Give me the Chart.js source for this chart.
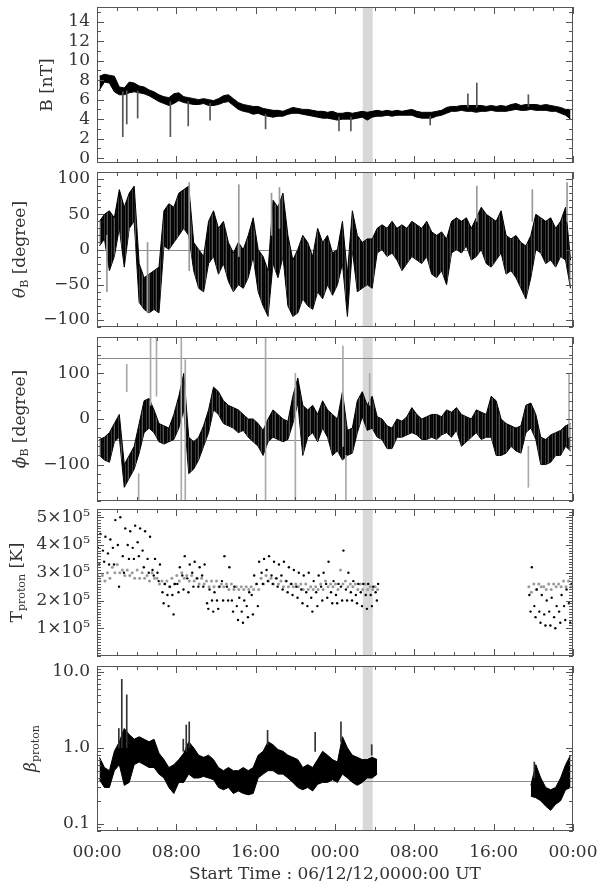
<!DOCTYPE html>
<html>
<head>
<meta charset="utf-8">
<script src="https://cdn.jsdelivr.net/npm/chart.js@4.4.1/dist/chart.umd.min.js"></script>
<style>
  body { margin: 0; background: #fff; width: 600px; height: 892px; position: relative; overflow: hidden; }
  canvas { position: absolute; left: 0; }
</style>
</head>
<body>
<canvas id="pB"></canvas>
<canvas id="pTheta"></canvas>
<canvas id="pPhi"></canvas>
<canvas id="pTemp"></canvas>
<canvas id="pBeta"></canvas>
<script>
// time bins (hours since 06/12/12 00:00 UT), 30 min each
const hours = [0,0.5,1,1.5,2,2.5,3,3.5,4,4.5,5,5.5,6,6.5,7,7.5,8,8.5,9,9.5,10,10.5,11,11.5,
  12,12.5,13,13.5,14,14.5,15,15.5,16,16.5,17,17.5,18,18.5,19,19.5,20,20.5,21,21.5,22,22.5,23,23.5,
  24,24.5,25,25.5,26,26.5,27,27.5,28,28.5,29,29.5,30,30.5,31,31.5,32,32.5,33,33.5,34,34.5,35,35.5,
  36,36.5,37,37.5,38,38.5,39,39.5,40,40.5,41,41.5,42,42.5,43,43.5,44,44.5,45,45.5,46,46.5,47,47.5];
const xTickHours = [0, 8, 16, 24, 32, 40, 48];
const xTickLabels = ['00:00', '08:00', '16:00', '00:00', '08:00', '16:00', '00:00'];
const xTitle = 'Start Time : 06/12/12,0000:00 UT';
const bandStart = 26.8, bandEnd = 27.8;

// |B| [nT] - upper / lower edge of the trace per bin
const bHi = [8.4,8.6,8.5,8.4,7.3,7.2,7.8,7.7,7.4,7.3, 7.0,6.8,6.5,6.3,6.2,6.6,6.7,6.3,6.2,6.1,
  6.0,6.1,6.0,5.9,6.1,6.4,6.5,6.1,5.7,5.5, 5.4,5.3,5.3,5.1,5.0,4.9,4.9,4.8,5.0,5.2,
  5.1,5.0,5.0,4.9,4.8,4.8,4.7,4.8,4.6,4.6, 4.7,4.6,4.7,4.8,4.7,4.8,4.9,4.8,4.9,4.8,
  4.9,4.8,4.9,5.0,4.8,4.7,4.7,4.7,4.8,4.9, 5.2,5.3,5.3,5.4,5.4,5.4,5.4,5.4,5.3,5.4,
  5.3,5.4,5.3,5.5,5.6,5.4,5.5,5.5,5.5,5.4, 5.5,5.4,5.3,5.2,5.0,5.0];
const bLo = [7.0,7.8,7.7,6.8,6.5,6.5,6.7,6.8,6.7,6.6, 6.4,6.1,5.8,5.6,5.4,5.6,5.9,5.7,5.6,5.5,
  5.5,5.6,5.4,5.4,5.5,5.7,5.8,5.4,5.0,4.8, 4.7,4.5,4.6,4.4,4.3,4.2,4.3,4.3,4.5,4.6,
  4.6,4.5,4.4,4.3,4.2,4.1,4.1,4.0,3.9,4.0, 4.0,4.0,4.1,4.2,3.9,4.2,4.3,4.3,4.4,4.3,
  4.4,4.4,4.4,4.4,4.2,4.1,4.1,4.1,4.3,4.4, 4.6,4.8,4.8,4.9,4.8,4.8,4.7,4.8,4.8,4.9,
  4.8,4.8,4.8,4.9,5.0,4.9,4.9,5.0,4.9,4.9, 4.9,4.8,4.8,4.6,4.4,4.0];
const bSpikeT  = [2.6, 3.0, 4.1, 7.4, 9.2, 11.4, 17.0, 24.4, 25.6, 33.6, 37.4, 38.3, 43.5];
const bSpikeLo = [2.2, 3.5, 4.1, 2.2, 3.3, 3.9, 3.0, 2.8, 2.8, 3.4, 5.2, 5.2, 5.3];
const bSpikeHi = [6.8, 6.9, 6.9, 5.8, 5.8, 5.6, 4.5, 4.2, 4.2, 4.3, 6.6, 7.7, 6.5];

// theta_B [degree]
const thetaHi = [40,50,55,45,85,60,80,90,-20,-40, -35,-30,-25,55,65,60,80,85,90,10,
  0,-10,40,55,30,40,10,-5,10,0, 20,45,0,-10,-30,70,60,80,20,-15,
  0,20,10,-10,30,10,20,-5,0,40, -35,55,20,10,15,15,30,35,30,40,
  30,35,30,40,35,30,40,25,20,25, 15,40,45,40,45,30,45,60,50,45,
  40,55,20,15,20,10,5,20,50,45, 40,45,30,40,60,-15];
const thetaLo = [5,15,-30,-10,30,-25,30,40,-75,-85, -90,-85,-90,5,0,10,20,30,20,-30,
  -55,-60,-20,-10,-35,-20,-45,-60,-50,-55, -40,-10,-60,-80,-95,-20,-40,-10,-80,-95,
  -90,-70,-80,-85,-60,-70,-50,-65,-50,-20, -95,0,-60,-55,-50,-55,-5,0,-10,-5,
  -15,-30,-20,-10,-15,-20,-10,-35,-40,-30, -50,-5,0,-5,5,-15,-10,0,-20,-25,
  -15,-5,-35,-30,-40,-55,-70,-40,0,-5, -20,-15,-25,-10,-15,-55];
const thetaSpikeT  = [1.0, 5.1, 9.3, 14.3, 17.6, 18.4, 38.3, 43.9, 47.4];
const thetaSpikeLo = [-60, -90, -30, -10, 20, 30, 40, 40, 40];
const thetaSpikeHi = [20, 10, 95, 92, 80, 88, 90, 85, 95];

// phi_B [degree]
const phiHi = [-45,-40,-30,-10,10,-100,-80,-60,-10,40, 45,20,-10,-15,-20,10,50,100,-40,-50,
  -40,-15,20,70,60,40,30,25,20,10, 0,0,-10,-25,0,20,10,0,-5,50,
  90,30,20,30,10,40,20,10,0,60, -25,-20,40,60,30,50,5,0,-15,-20,
  0,-5,5,25,10,0,5,10,10,5, 20,15,25,10,5,0,20,15,10,50,
  40,0,-10,-15,-20,-15,30,35,10,-40, -45,-35,-30,-25,-15,-10];
const phiLo = [-80,-90,-95,-50,-40,-150,-130,-110,-75,-30, -20,-30,-50,-55,-50,-45,-20,20,-120,-110,
  -90,-60,-30,20,10,-10,-15,-20,-30,-25, -40,-50,-60,-80,-50,-40,-45,-50,-45,-10,
  35,-80,-40,-30,-50,-20,-40,-80,-70,-90, -80,-75,-30,5,-25,-20,-40,-45,-65,-65,
  -40,-40,-35,-30,-35,-45,-45,-40,-45,-35, -30,-40,-25,-60,-50,-40,-30,-45,-40,-40,
  -80,-80,-75,-60,-70,-75,-30,-20,-45,-100, -100,-95,-80,-80,-60,-70];
const phiSpikeT  = [3.0, 4.2, 5.4, 6.0, 8.5, 8.9, 17.0, 20.0, 24.8, 25.1, 27.5, 43.5, 47.6];
const phiSpikeLo = [60, -180, 30, 50, -180, -180, -180, -180, -60, -180, 30, -150, -40];
const phiSpikeHi = [120, -120, 180, 180, 180, 130, 180, 100, 160, -80, 100, -60, 100];

// T_proton [10^5 K]: black = three samples per bin, grey = second estimate
const noData = Array(30).fill(null);
const tempHi = [4.4,4.3,4.2,4.9,5.0,4.6,4.5,4.7,4.6,4.5, 4.3,3.5,3.3,2.6,2.5,2.6,3.2,3.6,3.3,3.4,
  3.2,3.3,2.4,2.3,2.5,3.6,3.2,2.5,2.1,2.0, 2.3,2.9,3.4,3.5,3.6,3.4,3.3,3.4,3.2,3.1,
  3.0,2.9,3.0,2.7,2.9,3.0,3.4,2.7,2.6,3.8, 3.0,2.7,2.6,2.6,2.6,2.5,2.6,
  ...noData, 3.2,2.4,2.2,2.0,2.1,1.8,2.2,2.4,2.6];
const tempMid = [3.9,3.8,3.7,3.9,4.0,3.6,4.0,3.9,4.1,3.8, 3.5,3.1,3.0,2.3,2.2,2.2,2.6,2.9,2.8,3.0,
  2.8,2.9,1.9,2.0,2.0,2.7,2.5,2.0,1.8,1.6, 1.8,2.2,2.6,3.0,3.1,2.9,2.8,2.9,2.7,2.6,
  2.5,2.4,2.3,2.1,2.3,2.5,2.6,2.3,2.2,2.5, 2.4,2.3,2.2,2.3,2.2,2.2,2.3,
  ...noData, 2.2,1.8,1.6,1.5,1.6,1.4,1.6,1.8,1.9];
const tempLo = [3.3,3.4,3.3,3.3,2.5,3.0,3.5,3.5,3.6,3.2, 3.0,2.9,2.7,1.9,1.8,1.5,2.3,2.4,2.3,2.5,
  2.5,2.5,1.7,1.6,1.7,2.0,2.0,1.6,1.3,1.2, 1.4,1.5,1.8,2.6,2.7,2.6,2.5,2.4,2.3,2.2,
  2.1,1.9,1.8,1.6,1.8,2.0,2.1,1.9,1.9,2.0, 2.0,2.0,1.9,1.8,1.7,1.8,2.0,
  ...noData, 1.6,1.4,1.2,1.1,1.1,1.0,1.2,1.3,1.2];
const tempGrayHi = [2.9,2.9,3.0,3.2,3.3,3.1,3.1,3.0,3.1,3.0, 2.9,3.0,2.8,2.7,2.7,2.8,2.9,3.0,2.9,2.9,
  2.8,2.8,2.7,2.7,2.7,2.6,2.6,2.6,2.5,2.5, 2.5,2.5,2.6,2.8,2.9,2.8,2.8,2.7,2.7,2.6,
  2.6,2.6,2.6,2.5,2.5,2.6,2.7,2.6,2.6,3.1, 2.7,2.6,2.6,2.6,2.6,2.5,2.5,
  ...noData, 2.5,2.6,2.6,2.5,2.6,2.6,2.6,2.7,2.7];
const tempGrayLo = [2.7,2.7,2.8,3.0,3.0,2.9,2.9,2.8,2.8,2.8, 2.7,2.8,2.6,2.6,2.5,2.6,2.7,2.8,2.7,2.7,
  2.6,2.6,2.5,2.5,2.5,2.5,2.4,2.4,2.4,2.4, 2.4,2.4,2.4,2.6,2.7,2.6,2.6,2.5,2.5,2.5,
  2.5,2.4,2.4,2.4,2.4,2.4,2.5,2.5,2.4,2.6, 2.5,2.5,2.4,2.4,2.4,2.4,2.4,
  ...noData, 2.3,2.4,2.5,2.4,2.4,2.5,2.5,2.5,2.5];

// beta_proton
const betaHi = [.75,.55,.5,.9,1.2,1.8,1.5,1.3,1.4,1.3, 1.2,1.3,.85,.7,.55,.6,.7,.85,1.2,1.0,
  .8,.75,.8,.7,.55,.5,.55,.5,.5,.55, .5,.55,.8,.9,1.2,1.1,.95,.9,.8,.75,
  .7,.55,.6,.55,.7,.9,.8,.7,.65,1.4, 1.0,.8,.75,.7,.7,.75,.7,
  ...noData, .32,.6,.4,.3,.28,.3,.4,.6,.8];
const betaLo = [.38,.3,.3,.5,.6,.32,.35,.6,.65,.6, .55,.55,.45,.4,.3,.25,.35,.35,.45,.4,
  .4,.42,.4,.38,.3,.28,.3,.25,.27,.25, .24,.25,.4,.45,.5,.5,.45,.45,.4,.35,
  .3,.28,.3,.27,.33,.35,.35,.38,.35,.45, .4,.35,.32,.35,.4,.4,.45,
  ...noData, .23,.22,.2,.17,.15,.18,.2,.28,.3];
const betaSpikeT  = [2.2, 2.5, 3.0, 8.7, 9.0, 9.3, 17.2, 22.0, 24.6, 27.7, 44.1];
const betaSpikeLo = [1.0, 1.0, 1.0, 0.9, 0.9, 1.0, 1.1, 0.9, 1.2, 0.8, 0.4];
const betaSpikeHi = [1.8, 8.0, 5.0, 1.3, 2.0, 2.2, 1.7, 1.6, 2.2, 1.1, 0.65];

const FONT = 'DejaVu Serif';
const TEXT = '#333';
const LINE = '#555';
const PAD = 20;

// uneven vertical hatch so the wide angle bands read as dense scattered samples
function hatch() {
  const shades = ['#000', '#1c1c1c', '#555', '#000', '#0c0c0c', '#000', '#3a3a3a'];
  const c = document.createElement('canvas');
  c.width = shades.length; c.height = 1;
  const g = c.getContext('2d');
  shades.forEach((s, i) => { g.fillStyle = s; g.fillRect(i, 0, 1, 1); });
  return g.createPattern(c, 'repeat');
}
const HATCH = hatch();

function pts(values, shift) {
  return values.map((v, i) => ({ x: hours[i] + shift, y: v }));
}
function band(hi, lo, fillStyle) {
  return [
    { type: 'line', data: pts(hi, 0.25), borderColor: '#000', backgroundColor: fillStyle || '#000',
      borderWidth: 1, pointRadius: 0, fill: '+1', spanGaps: false },
    { type: 'line', data: pts(lo, 0.25), borderColor: '#000', borderWidth: 1, pointRadius: 0,
      fill: false, spanGaps: false }
  ];
}
function spikes(t, lo, hi, color) {
  return { type: 'bar', data: t.map((v, i) => ({ x: v, y: [lo[i], hi[i]] })),
    backgroundColor: color, barThickness: 1, grouped: false };
}
function dots(values, shift, color, r) {
  return { type: 'line', data: pts(values, shift), showLine: false, pointRadius: r,
    pointBackgroundColor: color, pointBorderWidth: 0, spanGaps: false };
}
function steps(a, b, s) {
  const out = [];
  for (let v = a; v <= b + 1e-9; v += s) out.push(+v.toFixed(4));
  return out;
}
const signed = v => (v < 0 ? '\u2212' + (-v) : String(v));

const idlFrame = {
  id: 'idlFrame',
  beforeDatasetsDraw(chart, args, o) {
    const { ctx, chartArea: a } = chart;
    const x = chart.scales.x, y = chart.scales.y;
    ctx.save();
    const b0 = x.getPixelForValue(bandStart), b1 = x.getPixelForValue(bandEnd);
    ctx.fillStyle = '#d8d8d8';
    ctx.fillRect(b0, a.top, b1 - b0, a.bottom - a.top);
    ctx.strokeStyle = '#8a8a8a';
    ctx.lineWidth = 1;
    (o.refs || []).forEach(v => {
      const py = Math.round(y.getPixelForValue(v)) + 0.5;
      ctx.beginPath(); ctx.moveTo(a.left, py); ctx.lineTo(a.right, py); ctx.stroke();
    });
    ctx.restore();
  },
  afterDraw(chart, args, o) {
    const { ctx, chartArea: a } = chart;
    const x = chart.scales.x, y = chart.scales.y;
    ctx.save();
    ctx.strokeStyle = LINE;
    ctx.lineWidth = 1;
    ctx.strokeRect(a.left + 0.5, a.top + 0.5, a.right - a.left - 1, a.bottom - a.top - 1);
    ctx.beginPath();
    const vt = (v, len) => {
      const px = Math.round(x.getPixelForValue(v)) + 0.5;
      ctx.moveTo(px, a.top); ctx.lineTo(px, a.top + len);
      ctx.moveTo(px, a.bottom); ctx.lineTo(px, a.bottom - len);
    };
    const ht = (v, len) => {
      const py = Math.round(y.getPixelForValue(v)) + 0.5;
      ctx.moveTo(a.left, py); ctx.lineTo(a.left + len, py);
      ctx.moveTo(a.right, py); ctx.lineTo(a.right - len, py);
    };
    steps(0, 48, 2).forEach(h => vt(h, h % 8 ? 4 : 7));
    o.minor.forEach(v => ht(v, 4));
    o.major.forEach(v => ht(v, 7));
    ctx.stroke();

    // rotated y title with subscripts
    ctx.translate(o.titleX, (a.top + a.bottom) / 2);
    ctx.rotate(-Math.PI / 2);
    ctx.fillStyle = TEXT;
    ctx.textBaseline = 'alphabetic';
    const fontOf = p => (p.it ? 'italic ' : '') + (p.sub ? 11 : 17) + 'px "' + FONT + '"';
    let w = 0;
    o.title.forEach(p => { ctx.font = fontOf(p); p.w = ctx.measureText(p.t).width; w += p.w; });
    let tx = -w / 2;
    o.title.forEach(p => {
      ctx.font = fontOf(p);
      ctx.fillText(p.t, tx, p.sub ? 9 : 6);
      tx += p.w;
    });
    ctx.restore();
  }
};

const panels = [
  { id: 'pB', top: 7, bottom: 163, min: -0.5, max: 15.5,
    labels: [0, 2, 4, 6, 8, 10, 12, 14], fmt: String, minor: steps(0, 15, 1),
    title: [{ t: 'B [nT]' }], titleX: 46,
    datasets: [spikes(bSpikeT, bSpikeLo, bSpikeHi, '#555'), ...band(bHi, bLo)] },
  { id: 'pTheta', top: 172, bottom: 327, min: -110, max: 110,
    labels: [-100, -50, 0, 50, 100], fmt: signed, minor: steps(-110, 110, 10), refs: [0],
    title: [{ t: '\u03b8', it: true }, { t: 'B', sub: true }, { t: ' [degree]' }], titleX: 19,
    datasets: [spikes(thetaSpikeT, thetaSpikeLo, thetaSpikeHi, '#999'), ...band(thetaHi, thetaLo, HATCH)] },
  { id: 'pPhi', top: 337, bottom: 501, min: -180, max: 180,
    labels: [-100, 0, 100], fmt: signed, minor: steps(-180, 180, 20), refs: [135, -45],
    title: [{ t: '\u03d5', it: true }, { t: 'B', sub: true }, { t: ' [degree]' }], titleX: 19,
    datasets: [spikes(phiSpikeT, phiSpikeLo, phiSpikeHi, '#aaa'), ...band(phiHi, phiLo, HATCH)] },
  { id: 'pTemp', top: 509, bottom: 656, min: 0, max: 5.3,
    labels: [1, 2, 3, 4, 5], fmt: v => v + '\u00d710\u2075', minor: steps(0, 5.3, 0.1),
    title: [{ t: 'T' }, { t: 'proton', sub: true }, { t: ' [K]' }], titleX: 16,
    datasets: [dots(tempHi, 0.35, '#000', 1.2), dots(tempMid, 0.1, '#000', 1.2), dots(tempLo, 0.22, '#000', 1.2),
      dots(tempGrayHi, 0.05, '#9a9a9a', 1.5), dots(tempGrayLo, 0.3, '#9a9a9a', 1.5)] },
  { id: 'pBeta', top: 666, bottom: 831, min: 0.08, max: 12, log: true,
    labels: [0.1, 1, 10], fmt: v => v.toFixed(1),
    minor: [0.08, 0.09, 0.2, 0.3, 0.4, 0.5, 0.6, 0.7, 0.8, 0.9, 2, 3, 4, 5, 6, 7, 8, 9, 11, 12], refs: [0.37],
    title: [{ t: '\u03b2', it: true }, { t: 'proton', sub: true }], titleX: 30,
    datasets: [spikes(betaSpikeT, betaSpikeLo, betaSpikeHi, '#333'), ...band(betaHi, betaLo)] }
];

panels.forEach((p, k) => {
  const last = k === panels.length - 1;
  const canvas = document.getElementById(p.id);
  const top = p.top - PAD;
  const height = last ? 892 - top : p.bottom - p.top + 2 * PAD;
  canvas.width = 600;
  canvas.height = height;
  canvas.style.width = '600px';
  canvas.style.height = height + 'px';
  canvas.style.top = top + 'px';
  const font = { family: FONT, size: 17 };

  new Chart(canvas, {
    type: 'line',
    data: { datasets: p.datasets },
    options: {
      responsive: false,
      maintainAspectRatio: false,
      animation: false,
      layout: { padding: { top: PAD, bottom: last ? 0 : PAD, left: 0, right: 27 } },
      plugins: {
        legend: { display: false },
        tooltip: { enabled: false },
        idlFrame: { refs: p.refs, major: p.labels, minor: p.minor, title: p.title, titleX: p.titleX }
      },
      scales: {
        x: {
          type: 'linear', min: 0, max: 48, offset: false, display: last,
          afterBuildTicks: s => { s.ticks = xTickHours.map(v => ({ value: v })); },
          afterFit: s => {
            s.height = last ? 61 : 0;
            s.paddingLeft = 0;
            s.paddingRight = 0;
          },
          grid: { display: false, drawTicks: false },
          border: { display: false },
          ticks: { autoSkip: false, maxRotation: 0, padding: 11, font, color: TEXT,
            callback: (v, i) => xTickLabels[i] },
          title: { display: true, text: xTitle, font, color: TEXT, padding: { top: 4, bottom: 7 } }
        },
        y: {
          type: p.log ? 'logarithmic' : 'linear', min: p.min, max: p.max,
          afterBuildTicks: s => { s.ticks = p.labels.map(v => ({ value: v })); },
          afterFit: s => { s.width = 97; },
          grid: { display: false, drawTicks: false },
          border: { display: false },
          ticks: { autoSkip: false, padding: 7, font, color: TEXT, callback: v => p.fmt(v) }
        }
      }
    },
    plugins: [idlFrame]
  });
});
</script>
</body>
</html>
